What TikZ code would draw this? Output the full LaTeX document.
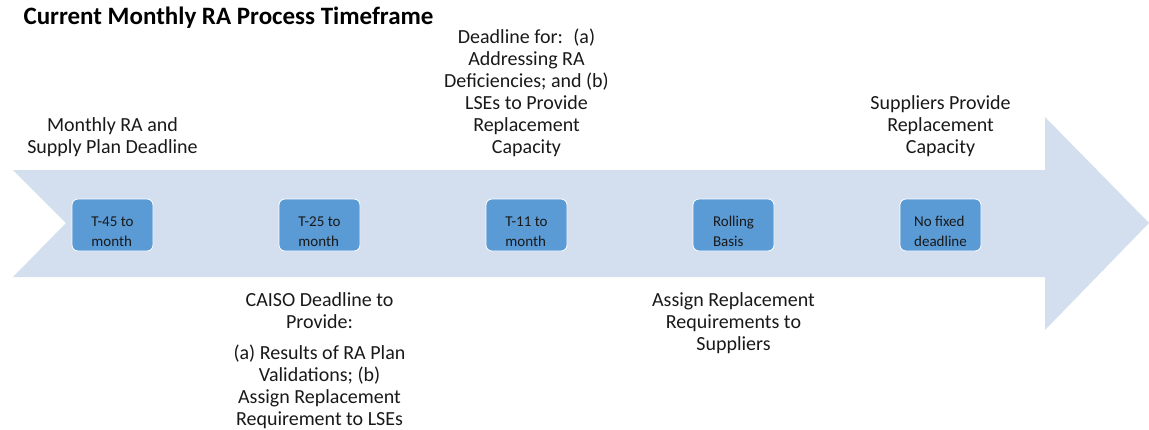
\documentclass[tikz,border=0pt]{standalone}
\usepackage{fontspec}
\setmainfont{Carlito}
\usetikzlibrary{positioning, shapes, arrows}
\definecolor{bandblue}{HTML}{D3DEEF}
\definecolor{boxblue}{HTML}{5B9BD5}
\tikzstyle{slot} = [rectangle, rounded corners=6pt, minimum width=81pt, minimum height=52pt, draw=white, line width=0.8pt, fill=boxblue, align=left, text=black!90, font=\fontsize{15}{20}\selectfont, text height=43pt, text depth=0pt]
\tikzstyle{note} = [align=center, inner sep=0pt, text=black!90, font=\fontsize{20}{22}\selectfont]

\begin{document}
\begin{tikzpicture}[x=1pt, y=-1pt, node distance=207pt]
        \useasboundingbox (0,0) rectangle (1149,429);
        % the timeline band
        \fill[bandblue] (13,170) -- (1045,170) -- (1045,117) -- (1149,223) -- (1045,330) -- (1045,277) -- (13,277) -- (66,223) -- cycle;

        \node (title) [anchor=west, text=black, font=\fontsize{25}{28}\bfseries] at (20,18) {Current Monthly RA Process Timeframe};

        \node (t45) [slot] at (112.5,225) {T-45 to\\month};
        \node (t25) [slot, right of=t45] {T-25 to\\month};
        \node (t11) [slot, right of=t25] {T-11 to\\month};
        \node (rolling) [slot, right of=t11] {Rolling\\Basis};
        \node (nofixed) [slot, right of=rolling] {No fixed\\deadline};

        \node (plan) [note, above=42pt of t45] {Monthly RA and\\Supply Plan Deadline};
        \node (deficiency) [note, above=42pt of t11] {Deadline for:~ (a)\\Addressing RA\\Deficiencies; and (b)\\LSEs to Provide\\Replacement\\Capacity};
        \node (supply) [note, above=42pt of nofixed] {Suppliers Provide\\Replacement\\Capacity};
        \node (caiso) [note, below=41pt of t25] {CAISO Deadline to\\Provide:\\[9pt](a) Results of RA Plan\\Validations; (b)\\Assign Replacement\\Requirement to LSEs};
        \node (assign) [note, below=41pt of rolling] {Assign Replacement\\Requirements to\\Suppliers};

        \end{tikzpicture}
\end{document}
